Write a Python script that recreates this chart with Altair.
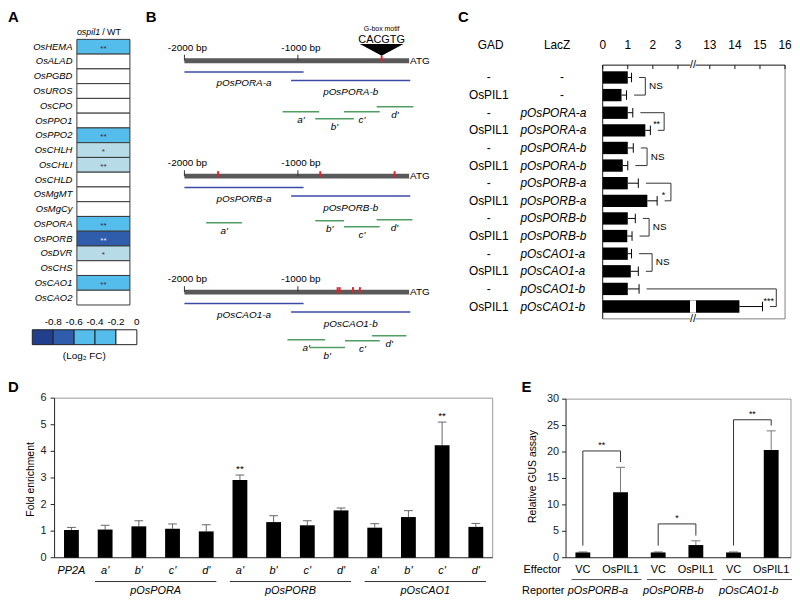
import altair as alt
import pandas as pd

# ---------------- data ----------------
# A: heat map of log2 fold change (ospil1 / WT)
A_genes = ["OsHEMA", "OsALAD", "OsPGBD", "OsUROS", "OsCPO", "OsPPO1", "OsPPO2",
           "OsCHLH", "OsCHLI", "OsCHLD", "OsMgMT", "OsMgCy", "OsPORA", "OsPORB",
           "OsDVR", "OsCHS", "OsCAO1", "OsCAO2"]
A_log2fc = [-0.45, 0, 0, 0, 0, 0, -0.45, -0.25, -0.25, 0, 0, 0, -0.45, -0.65, -0.25, 0, -0.45, 0]
A_sig = ["**", "", "", "", "", "", "**", "*", "**", "", "", "", "**", "**", "*", "", "**", ""]
A_legend_steps = [-0.8, -0.6, -0.4, -0.2, 0.0]

# B: promoter maps (bp upstream of ATG)
B_promoters = ["pOsPORA", "pOsPORB", "pOsCAO1"]
B_gbox = [[-262], [-1703, -803, -148], [-650, -632, -515, -454]]
B_scale_ticks = [-2000, -1000]
B_construct_names = ["a", "b"]
B_construct_start = [-2000, -1060]
B_construct_end = [-950, -10]
B_fragment_names = ["a'", "b'", "c'", "d'"]
B_fragment_start = [[-1135, -847, -594, -306], [-1808, -847, -594, -306], [-1092, -900, -585, -349]]
B_fragment_end = [[-812, -507, -279, 17], [-1493, -594, -279, 9], [-760, -585, -279, -44]]

# C: yeast one-hybrid
C_gad = ["-", "OsPIL1"] * 7
C_lacz = ["-", "-", "pOsPORA-a", "pOsPORA-a", "pOsPORA-b", "pOsPORA-b",
          "pOsPORB-a", "pOsPORB-a", "pOsPORB-b", "pOsPORB-b",
          "pOsCAO1-a", "pOsCAO1-a", "pOsCAO1-b", "pOsCAO1-b"]
C_value = [1.0, 0.75, 1.0, 1.7, 1.0, 0.8, 1.0, 1.78, 1.0, 0.98, 1.0, 1.12, 1.0, 14.18]
C_err = [0.15, 0.2, 0.2, 0.2, 0.22, 0.2, 0.42, 0.39, 0.3, 0.19, 0.15, 0.3, 0.45, 0.92]
C_pair_sig = ["NS", "**", "NS", "*", "NS", "NS", "***"]
C_ticks = [0, 1, 2, 3, 13, 14, 15, 16]

# D: ChIP fold enrichment
D_probe = ["PP2A", "a'", "b'", "c'", "d'", "a'", "b'", "c'", "d'", "a'", "b'", "c'", "d'"]
D_value = [1.04, 1.06, 1.18, 1.09, 0.99, 2.92, 1.34, 1.22, 1.78, 1.13, 1.53, 4.23, 1.16]
D_err = [0.10, 0.16, 0.21, 0.18, 0.25, 0.19, 0.24, 0.17, 0.09, 0.15, 0.24, 0.87, 0.13]
D_sig = ["", "", "", "", "", "**", "", "", "", "", "", "**", ""]
D_groups = ["pOsPORA", "pOsPORB", "pOsCAO1"]
D_ticks = [0, 1, 2, 3, 4, 5, 6]

# E: transient GUS assay
E_effector = ["VC", "OsPIL1"] * 3
E_reporter = ["pOsPORB-a", "pOsPORB-b", "pOsCAO1-b"]
E_value = [1.0, 12.4, 1.0, 2.4, 1.0, 20.4]
E_err = [0.1, 4.7, 0.1, 0.8, 0.1, 3.6]
E_sig = ["**", "*", "**"]
E_ticks = [0, 5, 10, 15, 20, 25, 30]

# ---------------- layout helpers ----------------
W, H = 791, 593
FONT = "Liberation Sans"


def px(v):
    """page pixel -> chart pixel (page has 8px margin)"""
    return v - 8


def X(f, s):
    return alt.X(f, type="quantitative", scale=s, axis=None)


def Y(f, s):
    return alt.Y(f, type="quantitative", scale=s, axis=None)


def const_text(text, x, y, **kw):
    return alt.Chart(pd.DataFrame({"t": [text]})).mark_text(**kw).encode(
        x=alt.value(px(x)), y=alt.value(px(y)), text="t:N")


layers = []
add = layers.append

# panel letters
for letter, (lx, ly) in {"A": (8, 14), "B": (147, 14), "C": (462, 14),
                         "D": (8, 388), "E": (526, 388)}.items():
    add(const_text(letter, lx, ly, align="left", baseline="middle", fontSize=15, fontWeight="bold"))

# ---------------- A ----------------
A_x = alt.Scale(domain=[0, 1], range=[px(77.5), px(131)])
A_y = alt.Scale(domain=[0, len(A_genes)], range=[px(37), px(305)])
heat_scale = alt.Scale(type="threshold", domain=[-0.7, -0.5, -0.3, -0.1],
                       range=["#213f8d", "#2f5dab", "#55bdeb", "#b7dbe7", "#ffffff"])
dfA = pd.DataFrame({"gene": A_genes, "lfc": A_log2fc, "sig": A_sig})
dfA["row"] = range(len(dfA))
dfA["row2"] = dfA["row"] + 1
dfA["mid"] = dfA["row"] + 0.5
dfA["c0"], dfA["c1"], dfA["cm"] = 0.0, 1.0, 0.5

add(alt.Chart(dfA).mark_rect(stroke="#3a3a3a", strokeWidth=1).encode(
    x=X("c0", A_x), x2="c1", y=Y("row", A_y), y2="row2",
    color=alt.Color("lfc:Q", scale=heat_scale, legend=None)))
add(alt.Chart(dfA).mark_text(fontSize=8, baseline="middle", dy=2).encode(
    x=X("cm", A_x), y=Y("mid", A_y), text="sig:N",
    color=alt.condition("datum.lfc < -0.5", alt.value("#e6ecf7"), alt.value("#333333"))))
add(alt.Chart(dfA).mark_text(align="right", baseline="middle", fontSize=9.5, fontStyle="italic").encode(
    x=alt.value(px(73)), y=Y("mid", A_y), text="gene:N"))
add(const_text("ospil1", 101, 30, align="right", baseline="middle", fontSize=9, fontStyle="italic"))
add(const_text("/ WT", 103, 30, align="left", baseline="middle", fontSize=9))

dfL = pd.DataFrame({"hi": A_legend_steps})
dfL["lo"] = dfL["hi"] - 0.2
dfL["mid"] = dfL["hi"] - 0.1
dfL["lab"] = [f"{v:g}" for v in A_legend_steps]
L_x = alt.Scale(domain=[-1.0, 0.0], range=[px(32.5), px(138)])
add(alt.Chart(dfL).mark_rect(stroke="#222222", strokeWidth=1).encode(
    x=X("lo", L_x), x2="hi", y=alt.value(px(330)), y2=alt.value(px(345)),
    color=alt.Color("mid:Q", scale=heat_scale, legend=None)))
add(alt.Chart(dfL).mark_text(fontSize=10, baseline="middle").encode(
    x=X("hi", L_x), y=alt.value(px(322)), text="lab:N"))
add(const_text("(Log\u2082 FC)", 85, 356, baseline="middle", fontSize=10))

# ---------------- B ----------------
B_x = alt.Scale(domain=[-2000, 0], range=[px(186), px(415)])
B_y = alt.Scale(domain=[8, 8 + H], range=[0, H])
B_base = [58.5, 175, 292]
B_construct_off = [11.5, 20]
B_construct_lab_off = [23, 32]
B_green_off = [[51.5, 58.5, 51.5, 46.5], [47, 45, 51, 44], [48, 56, 49, 44]]

bars, ticks, tlabs, reds, cons, conlab, frags, fraglab, atg = [], [], [], [], [], [], [], [], []
for d, b in enumerate(B_base):
    bars.append({"x0": -2000, "x1": -20, "y": b})
    atg.append({"x": -20, "y": b, "t": "ATG"})
    for t in B_scale_ticks:
        ticks.append({"x": t, "y0": b - 6, "y1": b})
        tlabs.append({"x": t, "y": b - 13, "t": f"{t} bp"})
    for s in B_gbox[d]:
        reds.append({"x": s, "y0": b - 5, "y1": b + 1})
    for k, nm in enumerate(B_construct_names):
        x0, x1 = B_construct_start[k], B_construct_end[k]
        cons.append({"x0": x0, "x1": x1, "y": b + B_construct_off[k]})
        conlab.append({"x": (x0 + x1) / 2, "y": b + B_construct_lab_off[k], "t": f"{B_promoters[d]}-{nm}"})
    for k, nm in enumerate(B_fragment_names):
        x0, x1 = B_fragment_start[d][k], B_fragment_end[d][k]
        yy = b + B_green_off[d][k]
        frags.append({"x0": x0, "x1": x1, "y": yy})
        fraglab.append({"x": (x0 + x1) / 2, "y": yy + 8, "t": nm})

add(alt.Chart(pd.DataFrame(bars)).mark_rule(strokeWidth=5, color="#595959").encode(
    x=X("x0", B_x), x2="x1", y=Y("y", B_y)))
add(alt.Chart(pd.DataFrame(ticks)).mark_rule(strokeWidth=1, color="#333333").encode(
    x=X("x", B_x), y=Y("y0", B_y), y2="y1"))
add(alt.Chart(pd.DataFrame(tlabs)).mark_text(fontSize=10, baseline="middle", dx=3).encode(
    x=X("x", B_x), y=Y("y", B_y), text="t:N"))
add(alt.Chart(pd.DataFrame(reds)).mark_rule(strokeWidth=2, color="#e0242a").encode(
    x=X("x", B_x), y=Y("y0", B_y), y2="y1"))
add(alt.Chart(pd.DataFrame(atg)).mark_text(fontSize=10, baseline="middle", align="left", dx=1).encode(
    x=X("x", B_x), y=Y("y", B_y), text="t:N"))
add(alt.Chart(pd.DataFrame(cons)).mark_rule(strokeWidth=1.5, color="#3d4ba6").encode(
    x=X("x0", B_x), x2="x1", y=Y("y", B_y)))
add(alt.Chart(pd.DataFrame(conlab)).mark_text(fontSize=10, baseline="middle", fontStyle="italic").encode(
    x=X("x", B_x), y=Y("y", B_y), text="t:N"))
add(alt.Chart(pd.DataFrame(frags)).mark_rule(strokeWidth=1.5, color="#4f9d62").encode(
    x=X("x0", B_x), x2="x1", y=Y("y", B_y)))
add(alt.Chart(pd.DataFrame(fraglab)).mark_text(fontSize=10, baseline="middle", fontStyle="italic").encode(
    x=X("x", B_x), y=Y("y", B_y), text="t:N"))
gb = pd.DataFrame({"x": [B_gbox[0][0]], "ytri": [B_base[0] - 11], "yseq": [B_base[0] - 20.5],
                   "ymot": [B_base[0] - 31.5], "seq": ["CACGTG"], "mot": ["G-box motif"]})
add(alt.Chart(gb).mark_point(shape="M-1,-0.27L1,-0.27L0,0.27Z", size=1936, filled=True,
                             color="black", opacity=1).encode(x=X("x", B_x), y=Y("ytri", B_y)))
add(alt.Chart(gb).mark_text(fontSize=11, baseline="middle").encode(
    x=X("x", B_x), y=Y("yseq", B_y), text="seq:N"))
add(alt.Chart(gb).mark_text(fontSize=7, baseline="middle").encode(
    x=X("x", B_x), y=Y("ymot", B_y), text="mot:N"))

# ---------------- C ----------------
BREAK, SHIFT = 3.6, 8.73


def ct(v):
    return v if v <= BREAK else v - SHIFT


C_x = alt.Scale(domain=[0, ct(16)], range=[px(608), px(792)])
C_y = alt.Scale(domain=[0.3, 14.7], range=[px(63), px(319)])
dfC = pd.DataFrame({"gad": C_gad, "lacz": C_lacz, "v": C_value, "e": C_err})
dfC["row"] = range(1, len(dfC) + 1)
dfC["x0"] = 0.0
dfC["xv"] = [ct(v) for v in dfC["v"]]
dfC["xe"] = [ct(v + e) for v, e in zip(dfC["v"], dfC["e"])]
dfC["r0"] = dfC["row"] - 0.35
dfC["r1"] = dfC["row"] + 0.35
dfC["c0"] = dfC["row"] - 0.27
dfC["c1"] = dfC["row"] + 0.27

add(alt.Chart(dfC).mark_rect(color="black").encode(x=X("x0", C_x), x2="xv", y=Y("r0", C_y), y2="r1"))
add(alt.Chart(dfC).mark_rule(color="black", strokeWidth=1).encode(x=X("xv", C_x), x2="xe", y=Y("row", C_y)))
add(alt.Chart(dfC).mark_rule(color="black", strokeWidth=1).encode(x=X("xe", C_x), y=Y("c0", C_y), y2="c1"))
# broken bar gap
brk = dfC[dfC["v"] > BREAK].copy()
brk["g0"], brk["g1"] = BREAK - 0.12, BREAK + 0.12
add(alt.Chart(brk).mark_rect(color="white").encode(x=X("g0", C_x), x2="g1", y=Y("r0", C_y), y2="r1"))

# brackets
seg, sig = [], []
for k, s in enumerate(C_pair_sig):
    r1, r2 = 2 * k + 1, 2 * k + 2
    e1, e2 = dfC["xe"][r1 - 1], dfC["xe"][r2 - 1]
    xv = max(e1, e2) + 0.55
    seg += [{"x0": e1 + 0.3, "x1": xv, "y0": r1, "y1": r1},
            {"x0": e2 + 0.3, "x1": xv, "y0": r2, "y1": r2},
            {"x0": xv, "x1": xv, "y0": r1, "y1": r2}]
    sig.append({"x": xv + 0.15 if s == "NS" else xv - 0.3, "y": (r1 + r2) / 2, "t": s, "ns": s == "NS"})
add(alt.Chart(pd.DataFrame(seg)).mark_rule(color="#333333", strokeWidth=1).encode(
    x=X("x0", C_x), x2="x1", y=Y("y0", C_y), y2="y1"))
dsig = pd.DataFrame(sig)
add(alt.Chart(dsig[dsig["ns"]]).mark_text(fontSize=10, align="left", baseline="middle").encode(
    x=X("x", C_x), y=Y("y", C_y), text="t:N"))
add(alt.Chart(dsig[~dsig["ns"]]).mark_text(fontSize=9, align="center", baseline="middle", dy=3).encode(
    x=X("x", C_x), y=Y("y", C_y), text="t:N"))

# row labels
add(alt.Chart(dfC).mark_text(fontSize=12, baseline="middle").encode(
    x=alt.value(px(493)), y=Y("row", C_y), text="gad:N"))
add(alt.Chart(dfC[dfC["lacz"] == "-"]).mark_text(fontSize=12, baseline="middle").encode(
    x=alt.value(px(567)), y=Y("row", C_y), text="lacz:N"))
add(alt.Chart(dfC[dfC["lacz"] != "-"]).mark_text(fontSize=12, baseline="middle", align="left",
                                                 fontStyle="italic").encode(
    x=alt.value(px(525)), y=Y("row", C_y), text="lacz:N"))
add(const_text("GAD", 495, 43, baseline="middle", fontSize=12))
add(const_text("LacZ", 562, 43, baseline="middle", fontSize=12))

# frame + axis
fr = pd.DataFrame({"x0": [0, 0, ct(16), 0], "x1": [ct(16), 0, ct(16), ct(16)],
                   "y0": [0.3, 0.3, 0.3, 14.7], "y1": [0.3, 14.7, 14.7, 14.7],
                   "c": ["k", "k", "g", "g"]})
add(alt.Chart(fr[fr["c"] == "g"]).mark_rule(color="#808080", strokeWidth=1).encode(
    x=X("x0", C_x), x2="x1", y=Y("y0", C_y), y2="y1"))
add(alt.Chart(fr[fr["c"] == "k"]).mark_rule(color="#111111", strokeWidth=1).encode(
    x=X("x0", C_x), x2="x1", y=Y("y0", C_y), y2="y1"))
dct = pd.DataFrame({"v": C_ticks})
dct["t"] = [ct(v) for v in C_ticks]
dct["lab"] = [str(v) for v in C_ticks]
add(alt.Chart(dct).mark_rule(color="#111111").encode(
    x=X("t", C_x), y=alt.value(px(63)), y2=alt.value(px(67))))
add(alt.Chart(dct).mark_text(fontSize=12, baseline="middle").encode(
    x=X("t", C_x), y=alt.value(px(43)), text="lab:N"))
bm = pd.DataFrame({"g0": [BREAK - 0.1, BREAK - 0.1], "g1": [BREAK + 0.1, BREAK + 0.1],
                   "x": [BREAK, BREAK], "y": [0.3, 14.7], "t": ["//", "//"]})
bm["y0"] = bm["y"] - 0.12
bm["y1"] = bm["y"] + 0.12
add(alt.Chart(bm).mark_rect(color="white").encode(
    x=X("g0", C_x), x2="g1", y=Y("y0", C_y), y2="y1"))
add(alt.Chart(bm).mark_text(fontSize=11, baseline="middle").encode(
    x=X("x", C_x), y=Y("y", C_y), text="t:N"))

# ---------------- D ----------------
D_x = alt.Scale(domain=[-0.5, len(D_probe) - 0.5], range=[px(55), px(497)])
D_y = alt.Scale(domain=[0, 6], range=[px(560), px(399)])
dfD = pd.DataFrame({"probe": D_probe, "v": D_value, "e": D_err, "sig": D_sig})
dfD["i"] = range(len(dfD))
dfD["l"] = dfD["i"] - 0.22
dfD["r"] = dfD["i"] + 0.22
dfD["cl"] = dfD["i"] - 0.13
dfD["cr"] = dfD["i"] + 0.13
dfD["top"] = dfD["v"] + dfD["e"]
dfD["zero"] = 0.0

add(alt.Chart(pd.DataFrame({"x0": [-0.5, 12.5], "x1": [12.5, 12.5], "y0": [6, 0], "y1": [6, 6]}))
    .mark_rule(color="#999999", strokeWidth=1).encode(x=X("x0", D_x), x2="x1", y=Y("y0", D_y), y2="y1"))
add(alt.Chart(pd.DataFrame({"x0": [-0.5, -0.5], "x1": [-0.5, 12.5], "y0": [0, 0], "y1": [6, 0]}))
    .mark_rule(color="#222222", strokeWidth=1).encode(x=X("x0", D_x), x2="x1", y=Y("y0", D_y), y2="y1"))
add(alt.Chart(dfD).mark_rule(color="#666666", strokeWidth=1).encode(x=X("i", D_x), y=Y("v", D_y), y2="top"))
add(alt.Chart(dfD).mark_rule(color="#666666", strokeWidth=1).encode(x=X("cl", D_x), x2="cr", y=Y("top", D_y)))
add(alt.Chart(dfD).mark_rect(color="black").encode(x=X("l", D_x), x2="r", y=Y("zero", D_y), y2="v"))
add(alt.Chart(dfD).mark_text(fontSize=10, baseline="middle", dy=-6).encode(
    x=X("i", D_x), y=Y("top", D_y), text="sig:N"))
add(alt.Chart(dfD).mark_text(fontSize=11, baseline="middle", fontStyle="italic").encode(
    x=X("i", D_x), y=alt.value(px(573)), text="probe:N"))
dG = pd.DataFrame({"g": D_groups})
dG["s"] = [1 + 4 * k - 0.3 for k in range(3)]
dG["e"] = [4 + 4 * k + 0.3 for k in range(3)]
dG["m"] = [2.5 + 4 * k for k in range(3)]
add(alt.Chart(dG).mark_rule(color="#333333").encode(x=X("s", D_x), x2="e", y=alt.value(px(584))))
add(alt.Chart(dG).mark_text(fontSize=11, baseline="middle", fontStyle="italic").encode(
    x=X("m", D_x), y=alt.value(px(594)), text="g:N"))
dDt = pd.DataFrame({"v": D_ticks, "lab": [str(v) for v in D_ticks]})
add(alt.Chart(dDt).mark_rule(color="#222222").encode(x=alt.value(px(51)), x2=alt.value(px(55)), y=Y("v", D_y)))
add(alt.Chart(dDt).mark_text(fontSize=11, baseline="middle", align="right", color="#222222").encode(
    x=alt.value(px(47)), y=Y("v", D_y), text="lab:N"))
add(const_text("Fold enrichment", 31, 481, angle=270, baseline="middle", fontSize=10.5))

# ---------------- E ----------------
E_x = alt.Scale(domain=[-0.447, 5.526], range=[px(571), px(798)])
E_y = alt.Scale(domain=[0, 30], range=[px(560), px(400)])
E_bracket_gap = [3.1, 3.2, 2.1]
dfE = pd.DataFrame({"eff": E_effector, "v": E_value, "e": E_err})
dfE["k"] = range(len(dfE))
dfE["l"] = dfE["k"] - 0.197
dfE["r"] = dfE["k"] + 0.197
dfE["cl"] = dfE["k"] - 0.12
dfE["cr"] = dfE["k"] + 0.12
dfE["top"] = dfE["v"] + dfE["e"]
dfE["zero"] = 0.0

add(alt.Chart(pd.DataFrame({"x0": [-0.447, 5.526], "x1": [5.526, 5.526], "y0": [30, 0], "y1": [30, 30]}))
    .mark_rule(color="#999999", strokeWidth=1).encode(x=X("x0", E_x), x2="x1", y=Y("y0", E_y), y2="y1"))
add(alt.Chart(pd.DataFrame({"x0": [-0.447, -0.447], "x1": [-0.447, 5.526], "y0": [0, 0], "y1": [30, 0]}))
    .mark_rule(color="#222222", strokeWidth=1).encode(x=X("x0", E_x), x2="x1", y=Y("y0", E_y), y2="y1"))
add(alt.Chart(dfE).mark_rule(color="#777777", strokeWidth=1).encode(x=X("k", E_x), y=Y("v", E_y), y2="top"))
add(alt.Chart(dfE).mark_rule(color="#777777", strokeWidth=1).encode(x=X("cl", E_x), x2="cr", y=Y("top", E_y)))
add(alt.Chart(dfE).mark_rect(color="black").encode(x=X("l", E_x), x2="r", y=Y("zero", E_y), y2="v"))
segE, sigE = [], []
for g in range(3):
    vc, pil = dfE.iloc[2 * g], dfE.iloc[2 * g + 1]
    lvl = max(vc["top"], pil["top"]) + E_bracket_gap[g]
    segE += [{"x0": vc["k"], "x1": vc["k"], "y0": vc["top"] + 1.2, "y1": lvl},
             {"x0": pil["k"], "x1": pil["k"], "y0": pil["top"] + 1.0, "y1": lvl},
             {"x0": vc["k"], "x1": pil["k"], "y0": lvl, "y1": lvl}]
    sigE.append({"x": 2 * g + 0.5, "y": lvl, "t": E_sig[g]})
add(alt.Chart(pd.DataFrame(segE)).mark_rule(color="#333333", strokeWidth=1).encode(
    x=X("x0", E_x), x2="x1", y=Y("y0", E_y), y2="y1"))
add(alt.Chart(pd.DataFrame(sigE)).mark_text(fontSize=9, baseline="middle", dy=-6).encode(
    x=X("x", E_x), y=Y("y", E_y), text="t:N"))
add(alt.Chart(dfE).mark_text(fontSize=11, baseline="middle").encode(
    x=X("k", E_x), y=alt.value(px(572)), text="eff:N"))
dGE = pd.DataFrame({"rep": E_reporter, "g": [0, 1, 2]})
dGE["s"] = 2 * dGE["g"] - 0.3
dGE["e"] = 2 * dGE["g"] + 1.56
dGE["m"] = 2 * dGE["g"] + 0.4
add(alt.Chart(dGE).mark_rule(color="#555555").encode(x=X("s", E_x), x2="e", y=alt.value(px(582))))
add(alt.Chart(dGE).mark_text(fontSize=11, baseline="middle", fontStyle="italic").encode(
    x=X("m", E_x), y=alt.value(px(594)), text="rep:N"))
add(const_text("Effector", 547, 572, baseline="middle", fontSize=11))
add(const_text("Reporter", 548, 594, baseline="middle", fontSize=11))
dEt = pd.DataFrame({"v": E_ticks, "lab": [str(v) for v in E_ticks]})
add(alt.Chart(dEt).mark_rule(color="#222222").encode(x=alt.value(px(567)), x2=alt.value(px(571)), y=Y("v", E_y)))
add(alt.Chart(dEt).mark_text(fontSize=11, baseline="middle", align="right", color="#222222").encode(
    x=alt.value(px(564)), y=Y("v", E_y), text="lab:N"))
add(const_text("Relative GUS assay", 538, 478, angle=270, baseline="middle", fontSize=10.5))

chart = alt.layer(*layers).resolve_scale(
    x="independent", y="independent", color="independent"
).properties(
    width=W, height=H, autosize=alt.AutoSizeParams(type="none"), padding=0
).configure_view(stroke="transparent").configure_text(font=FONT)

chart.save("out.html", embed_options={"renderer": "svg", "actions": False})
